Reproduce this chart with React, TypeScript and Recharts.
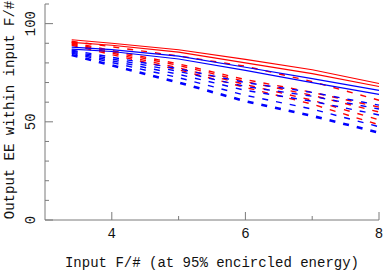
import { LineChart, Line, XAxis, YAxis } from "recharts";

// input F/# sample points
const FNUM = [3.4, 4, 5, 6, 7, 8];

// output EE (%) per fibre / setup
const redSolidA = [91.8, 90, 86.7, 81.8, 76.5, 69.5];
const redSolidB = [90.5, 89, 85.5, 80, 74.5, 68];
const blueSolidA = [88, 86.8, 83.5, 77.8, 72, 66];
const blueSolidB = [87, 85.8, 82, 76.2, 70, 64];
const redDashA = [91, 88.2, 83.5, 78.3, 70.5, 61];
const redDashB = [90.5, 86.3, 79.5, 71.5, 65, 57.5];
const redDashC = [90, 85.6, 78.7, 70.5, 63.5, 55];
const redDashD = [89.5, 85, 77.5, 69, 61, 51];
const redDashE = [89, 84.2, 76.5, 67.5, 59, 48.5];
const blueDashA = [86.5, 82.9, 77, 70, 65, 58.5];
const blueDashB = [86, 82, 75.7, 68, 63, 56.5];
const blueDashC = [85.5, 81.1, 74.2, 66, 60.5, 53.5];
const blueDashD = [85, 80.2, 72.5, 63.5, 56.5, 47.5];
const blueDashE = [84, 78.8, 70, 60.5, 53, 44.5];

const X_TICKS = [3, 4, 5, 6, 7, 8];
const X_LABELS = [4, 6, 8];
const Y_TICKS = [0, 10, 20, 30, 40, 50, 60, 70, 80, 90, 100, 110];
const Y_LABELS = [0, 50, 100];

const RED = "#ff0000";
const BLUE = "#0000ff";
const FRAME = "#7a7a7a";
const INK = "#111";
const FONT = "'Liberation Mono', 'DejaVu Sans Mono', monospace";
const FS = 14;

const SERIES = [
  { key: "redDashE", values: redDashE, color: RED, dash: true, w: 1.4 },
  { key: "redDashD", values: redDashD, color: RED, dash: true, w: 1.4 },
  { key: "redDashC", values: redDashC, color: RED, dash: true, w: 1.4 },
  { key: "redDashB", values: redDashB, color: RED, dash: true, w: 1.4 },
  { key: "redDashA", values: redDashA, color: RED, dash: true, w: 1.4 },
  { key: "blueDashE", values: blueDashE, color: BLUE, dash: true, w: 2.6 },
  { key: "blueDashD", values: blueDashD, color: BLUE, dash: true, w: 1.4 },
  { key: "blueDashC", values: blueDashC, color: BLUE, dash: true, w: 1.4 },
  { key: "blueDashB", values: blueDashB, color: BLUE, dash: true, w: 1.4 },
  { key: "blueDashA", values: blueDashA, color: BLUE, dash: true, w: 1.4 },
  { key: "blueSolidB", values: blueSolidB, color: BLUE, dash: false, w: 1.2 },
  { key: "blueSolidA", values: blueSolidA, color: BLUE, dash: false, w: 1.2 },
  { key: "redSolidB", values: redSolidB, color: RED, dash: false, w: 1.2 },
  { key: "redSolidA", values: redSolidA, color: RED, dash: false, w: 1.2 },
];

const data = FNUM.map((f, i) => {
  const row: Record<string, number> = { f };
  SERIES.forEach((s) => { row[s.key] = s.values[i]; });
  return row;
});

const BottomTick = (props: any) => {
  const { x, y, payload } = props;
  const major = X_LABELS.includes(payload.value);
  const len = major ? 8 : 4;
  return (
    <g>
      {payload.value !== 3 && <line x1={x} x2={x} y1={y} y2={y - len} stroke={FRAME} />}
      {major && (
        <text x={x} y={y + 18} textAnchor="middle" fontFamily={FONT} fontSize={FS} fill={INK}>
          {payload.value}
        </text>
      )}
    </g>
  );
};

const TopTick = (props: any) => {
  const { x, y, payload } = props;
  if (payload.value === 3 || payload.value === 8) return <g />;
  const len = X_LABELS.includes(payload.value) ? 8 : 4;
  return <line x1={x} x2={x} y1={y} y2={y + len} stroke={FRAME} />;
};

const LeftTick = (props: any) => {
  const { x, y, payload } = props;
  const major = Y_LABELS.includes(payload.value);
  const len = major ? 8 : 4;
  const tx = x - 10;
  return (
    <g>
      <line x1={x} x2={x + len} y1={y} y2={y} stroke={FRAME} />
      {major && (
        <text
          x={tx}
          y={y}
          textAnchor="middle"
          fontFamily={FONT}
          fontSize={FS}
          fill={INK}
          transform={`rotate(-90 ${tx} ${y})`}
        >
          {payload.value}
        </text>
      )}
    </g>
  );
};

const RightTick = (props: any) => {
  const { x, y, payload } = props;
  if (payload.value === 0 || payload.value === 110) return <g />;
  const len = Y_LABELS.includes(payload.value) ? 8 : 4;
  return <line x1={x} x2={x - len} y1={y} y2={y} stroke={FRAME} />;
};

export default function App() {
  return (
    <div style={{ position: "absolute", left: 0, top: 0, width: 383, height: 273, background: "#fff" }}>
      <LineChart width={383} height={273} data={data} margin={{ top: 4, right: 4, bottom: 0, left: 0 }}>
        <XAxis
          xAxisId="b"
          dataKey="f"
          type="number"
          domain={[3, 8]}
          ticks={X_TICKS}
          interval={0}
          height={53}
          tickSize={0}
          tickMargin={0}
          tickLine={false}
          axisLine={{ stroke: FRAME }}
          tick={<BottomTick />}
          label={{ value: "Input F/# (at 95% encircled energy)", position: "insideBottom", offset: 6, fontFamily: FONT, fontSize: FS, fill: INK }}
        />
        <XAxis
          xAxisId="t"
          orientation="top"
          dataKey="f"
          type="number"
          domain={[3, 8]}
          ticks={X_TICKS}
          interval={0}
          height={0}
          tickSize={0}
          tickMargin={0}
          tickLine={false}
          axisLine={{ stroke: FRAME }}
          tick={<TopTick />}
        />
        <YAxis
          yAxisId="l"
          type="number"
          domain={[0, 110]}
          ticks={Y_TICKS}
          interval={0}
          width={45}
          tickSize={0}
          tickMargin={0}
          tickLine={false}
          axisLine={{ stroke: FRAME }}
          tick={<LeftTick />}
          label={{ value: "Output EE within input F/#", angle: -90, position: "insideLeft", dx: 4, dy: -2, fontFamily: FONT, fontSize: FS, fill: INK, style: { textAnchor: "middle" } }}
        />
        <YAxis
          yAxisId="r"
          orientation="right"
          type="number"
          domain={[0, 110]}
          ticks={Y_TICKS}
          interval={0}
          width={0}
          tickSize={0}
          tickMargin={0}
          tickLine={false}
          axisLine={{ stroke: FRAME }}
          tick={<RightTick />}
        />
        {SERIES.map((s) => (
          <Line
            key={s.key}
            xAxisId="b"
            yAxisId="l"
            type="linear"
            dataKey={s.key}
            stroke={s.color}
            strokeWidth={s.w}
            strokeDasharray={s.dash ? "6 8" : undefined}
            dot={false}
            activeDot={false}
            isAnimationActive={false}
          />
        ))}
      </LineChart>
    </div>
  );
}
